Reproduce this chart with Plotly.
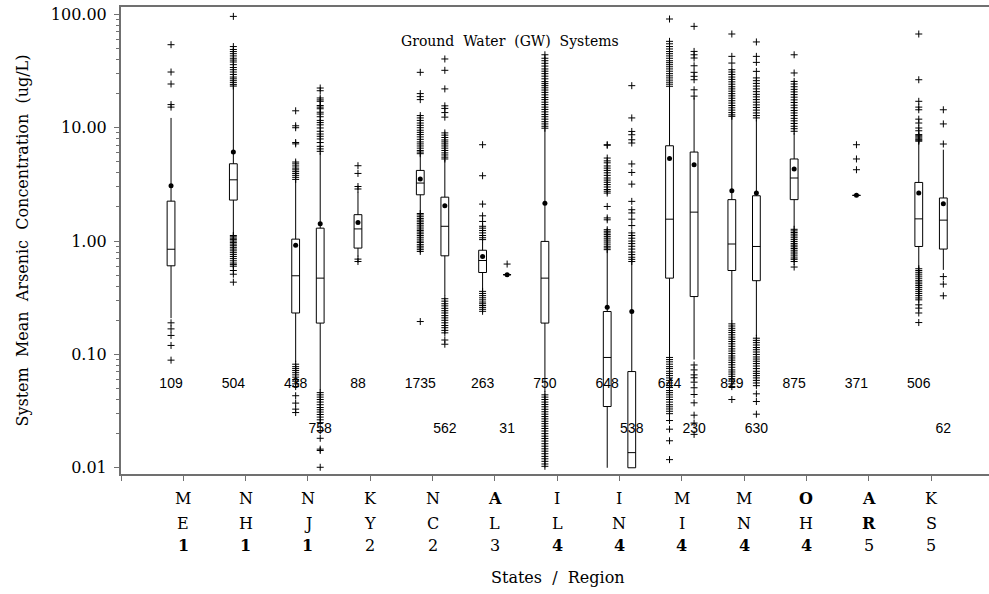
import plotly.graph_objects as go

# ---- categories -------------------------------------------------------------
states = ["ME", "NH", "NJ", "KY", "NC", "AL", "IL", "IN", "MI", "MN", "OH", "AR", "KS"]
regions = ["1", "1", "1", "2", "2", "3", "4", "4", "4", "4", "4", "5", "5"]
y_tick_vals = [0.01, 0.1, 1, 10, 100]
y_tick_text = ["0.01", "0.10", "1.00", "10.00", "100.00"]
y_minor_vals = [m * d for d in (0.01, 0.1, 1, 10) for m in range(2, 10)]

# ---- first system set (left box of each state) --------------------------------
n_a = [109, 504, 438, 88, 1735, 263, 750, 648, 644, 829, 875, 371, 506]
q1_a = [0.605, 2.30, 0.232, 0.867, 2.56, 0.528, 0.189, 0.0347, 0.471, 0.55, 2.32, 2.53, 0.896]
med_a = [0.847, 3.47, 0.494, 1.28, 3.25, 0.674, 0.471, 0.094, 1.56, 0.942, 3.6, 2.53, 1.57]
q3_a = [2.25, 4.81, 1.04, 1.71, 4.2, 0.83, 0.993, 0.239, 6.93, 2.32, 5.3, 2.53, 3.29]
lo_a = [0.209, 1.16, 0.086, 0.731, 1.82, 0.37, 0.0465, 0.01, 0.098, 0.195, 1.32, 2.53, 0.58]
hi_a = [12.2, 22.5, 3.4, 2.72, 5.8, 0.97, 9.6, 0.82, 22.5, 12.3, 9.0, 2.53, 7.5]
mean_a = [3.08, 6.1, 0.92, 1.46, 3.53, 0.73, 2.16, 0.261, 5.36, 2.78, 4.32, 2.53, 2.65]
out_a = [
    [54, 31, 24.3, 16, 15.2, 0.19, 0.168, 0.147, 0.12, 0.089],
    [96, 52, 49, 47, 45, 43, 41, 39.5, 38, 36, 34, 32.5, 31, 29.5, 28, 27, 26, 25, 24, 23.3,
     1.12, 1.09, 1.06, 1.03, 1.0, 0.97, 0.94, 0.91, 0.88, 0.85, 0.82, 0.79, 0.76, 0.73,
     0.70, 0.67, 0.64, 0.62, 0.60, 0.55, 0.51, 0.434],
    [14.1, 10.4, 10.0, 7.4, 7.2, 4.98, 4.8, 4.6, 4.4, 4.25, 4.1, 3.95, 3.8, 3.65, 3.5,
     0.082, 0.078, 0.075, 0.072, 0.069, 0.066, 0.063, 0.06, 0.058, 0.055, 0.052,
     0.0432, 0.0372, 0.0329, 0.0307],
    [4.62, 3.95, 3.03, 2.88, 0.693, 0.66],
    [30.8, 20, 18.8, 17.7, 12.8, 12.2, 11.6, 11.0, 10.5, 10.0, 9.5, 9.1, 8.7, 8.3, 7.9, 7.5,
     7.2, 6.9, 6.6, 6.3, 6.1, 5.9,
     1.75, 1.7, 1.64, 1.58, 1.53, 1.48, 1.43, 1.38, 1.33, 1.28, 1.24, 1.2, 1.16, 1.12, 1.08,
     1.04, 1.0, 0.97, 0.93, 0.9, 0.87, 0.84, 0.81, 0.195],
    [7.08, 3.77, 2.12, 1.67, 1.49, 1.35, 1.3, 1.24, 1.18, 1.12, 1.07, 1.03,
     0.36, 0.345, 0.33, 0.316, 0.303, 0.29, 0.28, 0.27, 0.26, 0.25, 0.24],
    [44, 41, 39, 37, 35, 33, 31.5, 30, 28.5, 27, 25.5, 24.5, 23.5, 22.5, 21.5, 20.5, 19.5,
     18.5, 17.7, 16.8, 16, 15.2, 14.5, 13.8, 13.1, 12.5, 11.9, 11.3, 10.8, 10.3, 9.9,
     0.044, 0.042, 0.040, 0.038, 0.0362, 0.0345, 0.0328, 0.0312, 0.0297, 0.0283, 0.027,
     0.0257, 0.0245, 0.0233, 0.0222, 0.0211, 0.02, 0.019, 0.0181, 0.0172, 0.0163, 0.0155,
     0.0147, 0.014, 0.0133, 0.0126, 0.012, 0.0114, 0.0108, 0.0103],
    [7.08, 7.0, 5.4, 5.1, 4.9, 4.6, 4.4, 4.2, 4.0, 3.8, 3.6, 3.45, 3.3, 3.15, 3.0, 2.85,
     2.75, 2.65, 2.02, 1.6, 1.54, 1.26, 1.22, 1.18, 1.14, 1.1, 1.06, 1.02, 0.98, 0.94,
     0.9, 0.87, 0.84],
    [91, 57.8, 55, 52, 49.5, 47, 45, 43, 41, 39, 37.5, 36, 34.5, 33, 31.5, 30, 28.7, 27.5,
     26.3, 25.2, 24.2, 23.2,
     0.094, 0.09, 0.086, 0.082, 0.078, 0.075, 0.071, 0.068, 0.065, 0.062, 0.059, 0.056,
     0.053, 0.051, 0.048, 0.046, 0.044, 0.042, 0.04, 0.038, 0.036, 0.0345, 0.033, 0.0315,
     0.030, 0.0261, 0.0219, 0.0173, 0.0118],
    [67.1, 42.6, 37.2, 32.5, 31, 29.5, 28, 26.7, 25.4, 24.2, 23, 22, 21, 20, 19.1, 18.2,
     17.3, 16.5, 15.7, 15, 14.3, 13.6, 13, 12.6,
     0.186, 0.178, 0.17, 0.163, 0.156, 0.149, 0.142, 0.136, 0.13, 0.124, 0.118, 0.112,
     0.107, 0.102, 0.097, 0.093, 0.089, 0.085, 0.081, 0.077, 0.073, 0.07, 0.067, 0.064,
     0.061, 0.058, 0.055, 0.052, 0.04],
    [44, 30.4, 25.6, 24.3, 23, 21.8, 20.7, 19.6, 18.6, 17.6, 16.7, 15.8, 15, 14.2, 13.5,
     12.8, 12.1, 11.5, 10.9, 10.3, 9.8, 9.3,
     1.27, 1.23, 1.19, 1.15, 1.11, 1.07, 1.03, 0.99, 0.95, 0.92, 0.89, 0.86, 0.83, 0.8,
     0.77, 0.74, 0.71, 0.69, 0.66, 0.59],
    [7.08, 5.3, 4.26],
    [67.1, 26.5, 17.1, 15.2, 14.4, 11.9, 11.0, 9.94, 9.4, 8.7, 8.5, 8.3, 8.1, 7.9, 7.75, 7.6,
     0.57, 0.55, 0.53, 0.51, 0.49, 0.47, 0.45, 0.435, 0.42, 0.405, 0.39, 0.375, 0.36,
     0.345, 0.33, 0.315, 0.303, 0.274, 0.256, 0.232, 0.191],
]

# ---- second system set (right box, only where sampled) ----------------------
n_b = [None, None, 758, None, 562, 31, None, 538, 230, 630, None, None, 62]
q1_b = [None, None, 0.189, None, 0.741, 0.505, None, 0.01, 0.324, 0.447, None, None, 0.85]
med_b = [None, None, 0.471, None, 1.35, 0.505, None, 0.0136, 1.8, 0.896, None, None, 1.53]
q3_b = [None, None, 1.30, None, 2.44, 0.505, None, 0.0706, 6.1, 2.51, None, None, 2.4]
lo_b = [None, None, 0.048, None, 0.33, 0.505, None, 0.01, 0.09, 0.145, None, None, 0.557]
hi_b = [None, None, 6.0, None, 5.2, 0.505, None, 0.65, 18.5, 11.8, None, None, 6.4]
mean_b = [None, None, 1.42, None, 2.05, 0.505, None, 0.239, 4.72, 2.65, None, None, 2.13]
out_b = [
    [], [],
    [22.4, 21.2, 18.3, 17.6, 17.1, 15.7, 15.2, 14.7, 13.7, 13.2, 12.5, 11.6, 11.1, 10.6,
     9.95, 9.3, 8.8, 8.4, 7.96, 7.4, 6.85, 6.5, 6.19,
     0.046, 0.044, 0.042, 0.040, 0.038, 0.036, 0.034, 0.0325, 0.031, 0.0295, 0.028,
     0.0265, 0.025, 0.0213, 0.0182, 0.0146, 0.0142, 0.0101],
    [],
    [40.4, 32.1, 22.0, 15.6, 14.8, 13.6, 12.4, 9.0, 8.6, 8.2, 7.8, 7.5, 7.2, 6.9, 6.6, 6.3,
     6.0, 5.75, 5.5, 5.3,
     0.31, 0.295, 0.28, 0.268, 0.255, 0.243, 0.232, 0.22, 0.21, 0.2, 0.19, 0.18, 0.172,
     0.163, 0.155, 0.134, 0.123],
    [0.627],
    [],
    [23.5, 12.2, 9.27, 8.67, 7.83, 7.33, 4.79, 4.03, 3.18, 2.24, 1.89, 1.77, 1.56, 1.37,
     1.18, 1.12, 1.06, 1.0, 0.95, 0.9, 0.85, 0.8, 0.76, 0.72, 0.69, 0.66],
    [78.4, 47.1, 44, 41.2, 35.2, 30.8, 28.4, 26.5, 21.6, 19.0,
     0.0807, 0.073, 0.066, 0.0622, 0.0569, 0.0508, 0.0443, 0.0374, 0.0291, 0.0248, 0.0197],
    [57.1, 42.6, 37.7, 31.4, 27.5, 26, 24.6, 23.3, 22, 20.8, 19.7, 18.7, 17.7, 16.8, 15.9,
     15.1, 14.3, 13.5, 12.8, 12.2,
     0.139, 0.133, 0.127, 0.121, 0.115, 0.11, 0.105, 0.1, 0.095, 0.091, 0.087, 0.083,
     0.079, 0.075, 0.071, 0.068, 0.065, 0.062, 0.059, 0.056, 0.053, 0.0449, 0.0384, 0.0297],
    [], [],
    [14.4, 10.8, 7.18, 0.486, 0.417, 0.329],
]

# ---- styling ----------------------------------------------------------------
SERIF = "DejaVu Serif"
SANS = "Liberation Sans"
AXIS_GREY = "#707070"
BOLD_GLYPHS = {"1", "4", "A", "O", "R"}
PAIR_OFFSET = 0.197   # half distance between the two boxes of a state
BOX_WIDTH = 0.125
COUNT_ROW_A = 10 ** -1.265
COUNT_ROW_B = 10 ** -1.662

fig = go.Figure()


def add_set(offset, n, q1, med, q3, lo, hi, mean, outs, count_y):
    idx = [i for i in range(len(states)) if n[i] is not None]
    pos = [i + offset for i in idx]
    fig.add_trace(go.Box(
        x=pos,
        q1=[q1[i] for i in idx], median=[med[i] for i in idx], q3=[q3[i] for i in idx],
        lowerfence=[lo[i] for i in idx], upperfence=[hi[i] for i in idx],
        width=BOX_WIDTH, whiskerwidth=0, fillcolor="white",
        line=dict(color="black", width=1), boxpoints=False, showlegend=False,
        hoverinfo="skip",
    ))
    ox, oy = [], []
    for i in idx:
        for v in outs[i]:
            ox.append(i + offset)
            oy.append(v)
    fig.add_trace(go.Scatter(
        x=ox, y=oy, mode="markers", showlegend=False, hoverinfo="skip",
        marker=dict(symbol="cross-thin", size=5, line=dict(color="black", width=1)),
    ))
    fig.add_trace(go.Scatter(
        x=pos, y=[mean[i] for i in idx], mode="markers", showlegend=False,
        hoverinfo="skip", marker=dict(symbol="circle", size=5, color="black"),
    ))
    fig.add_trace(go.Scatter(
        x=pos, y=[count_y] * len(pos), mode="text", text=[str(n[i]) for i in idx],
        textposition="middle center", showlegend=False, hoverinfo="skip",
        textfont=dict(family=SANS, size=14, color="black"),
    ))


add_set(-PAIR_OFFSET, n_a, q1_a, med_a, q3_a, lo_a, hi_a, mean_a, out_a, COUNT_ROW_A)
add_set(PAIR_OFFSET, n_b, q1_b, med_b, q3_b, lo_b, hi_b, mean_b, out_b, COUNT_ROW_B)


def glyph(ch):
    return f"<b>{ch}</b>" if ch in BOLD_GLYPHS else ch


# stacked state / region labels under each tick
annotations = []
label_rows = [-0.0518, -0.1053, -0.153]
for i, (st, rg) in enumerate(zip(states, regions)):
    for row_y, ch in zip(label_rows, [st[0], st[1], rg]):
        annotations.append(dict(
            x=i, y=row_y, xref="x", yref="paper", text=glyph(ch), showarrow=False,
            xanchor="center", yanchor="middle",
            font=dict(family=SERIF, size=16, color="black"),
        ))

annotations.append(dict(
    x=0.448, y=0.928, xref="paper", yref="paper", text="Ground  Water  (GW)  Systems",
    showarrow=False, xanchor="center", yanchor="middle",
    font=dict(family=SERIF, size=14, color="black"),
))
annotations.append(dict(
    x=0.5035, y=-0.2215, xref="paper", yref="paper", text="States  /  Region",
    showarrow=False, xanchor="center", yanchor="middle",
    font=dict(family=SERIF, size=16, color="black"),
))
annotations.append(dict(
    x=-0.114, y=0.5, xref="paper", yref="paper",
    text="System  Mean  Arsenic  Concentration  (ug/L)", textangle=-90,
    showarrow=False, xanchor="center", yanchor="middle",
    font=dict(family=SERIF, size=16, color="black"),
))

fig.update_layout(
    width=989, height=594,
    margin=dict(l=121, r=0, t=7, b=120),
    paper_bgcolor="white", plot_bgcolor="white",
    annotations=annotations,
    xaxis=dict(
        range=[-1, 12.93], tickmode="array", tickvals=list(range(-1, len(states))),
        showticklabels=False, ticks="outside", ticklen=5, tickwidth=1,
        tickcolor=AXIS_GREY, showline=True, linecolor=AXIS_GREY, linewidth=2,
        mirror=True, showgrid=False, zeroline=False,
    ),
    yaxis=dict(
        type="log", range=[-2.055, 2.065], tickmode="array",
        tickvals=y_tick_vals, ticktext=y_tick_text,
        ticks="outside", ticklen=5, tickwidth=1, tickcolor=AXIS_GREY,
        showline=True, linecolor=AXIS_GREY, linewidth=2, showgrid=False,
        zeroline=False, ticklabelstandoff=4,
        tickfont=dict(family=SERIF, size=16, color="black"),
        minor=dict(tickmode="array", tickvals=y_minor_vals, ticks="outside",
                   ticklen=3, tickwidth=1, tickcolor=AXIS_GREY, showgrid=False),
    ),
)

fig.write_html("out.html")
